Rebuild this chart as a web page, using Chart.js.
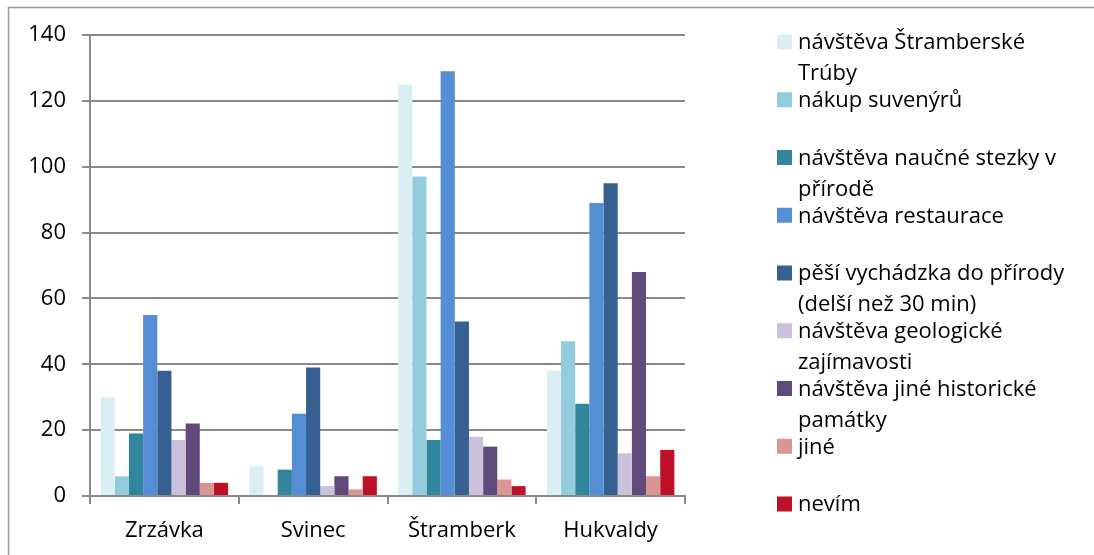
<!DOCTYPE html>
<html>
<head>
<meta charset="utf-8">
<script src="https://cdn.jsdelivr.net/npm/chart.js@4"></script>
<style>
html,body{margin:0;padding:0;background:#fff;}
#wrap{width:1094px;height:555px;position:relative;}
</style>
</head>
<body>
<div id="wrap"><canvas id="c" width="1094" height="555"></canvas></div>
<script>
const categories = ['Zrzávka', 'Svinec', 'Štramberk', 'Hukvaldy'];

const legendLines = [
  ['návštěva Štramberské', 'Trúby'],
  ['nákup suvenýrů'],
  ['návštěva naučné stezky v', 'přírodě'],
  ['návštěva restaurace'],
  ['pěší vychádzka do přírody', '(delší než 30 min)'],
  ['návštěva geologické', 'zajímavosti'],
  ['návštěva jiné historické', 'památky'],
  ['jiné'],
  ['nevím']
];

const truby       = [30, 9, 125, 38];
const suvenyry    = [6, 0, 97, 47];
const stezka      = [19, 8, 17, 28];
const restaurace  = [55, 25, 129, 89];
const vychazka    = [38, 39, 53, 95];
const geologie    = [17, 3, 18, 13];
const historie    = [22, 6, 15, 68];
const jine        = [4, 2, 5, 6];
const nevim       = [4, 6, 3, 14];

const seriesValues = [truby, suvenyry, stezka, restaurace, vychazka, geologie, historie, jine, nevim];
const seriesColors = ['#DBEEF4', '#93CDDD', '#31859C', '#558ED5', '#376092', '#CCC1DA', '#604A7B', '#D99694', '#BE1128'];

const yTicks = [0, 20, 40, 60, 80, 100, 120, 140];

const FONT = '"Open Sans", Lato, sans-serif';
const FSIZE = 22;

const framePlugin = {
  id: 'frame',
  beforeDraw(chart) {
    const ctx = chart.ctx;
    ctx.save();
    ctx.fillStyle = '#fff';
    ctx.fillRect(0, 0, chart.width, chart.height);
    ctx.strokeStyle = '#9a9a9a';
    ctx.lineWidth = 1.5;
    ctx.beginPath();
    ctx.moveTo(8.5, chart.height);
    ctx.lineTo(8.5, 7.5);
    ctx.lineTo(chart.width, 7.5);
    ctx.stroke();
    ctx.restore();
  }
};

const legendPlugin = {
  id: 'customLegend',
  afterDraw(chart) {
    const ctx = chart.ctx;
    ctx.save();
    ctx.font = FSIZE + 'px ' + FONT;
    ctx.textBaseline = 'middle';
    ctx.textAlign = 'left';
    chart.data.datasets.forEach((ds, i) => {
      const y0 = 42 + i * 57.75;
      ctx.fillStyle = ds.backgroundColor;
      ctx.fillRect(777, y0 - 7.5, 15, 15);
      ctx.fillStyle = '#000';
      legendLines[i].forEach((line, j) => {
        ctx.fillText(line, 798, y0 + 1 + j * 31);
      });
    });
    ctx.restore();
  }
};

new Chart(document.getElementById('c'), {
  type: 'bar',
  data: {
    labels: categories,
    datasets: seriesValues.map((vals, i) => ({
      label: legendLines[i].join(' '),
      data: vals,
      backgroundColor: seriesColors[i],
      borderWidth: 0,
      barPercentage: 1.0,
      categoryPercentage: 0.857
    }))
  },
  options: {
    responsive: false,
    animation: false,
    devicePixelRatio: 1,
    layout: { padding: { left: 0, right: 409, top: 35, bottom: 0 } },
    plugins: {
      legend: { display: false },
      tooltip: { enabled: false },
      title: { display: false }
    },
    scales: {
      x: {
        grid: {
          display: true,
          drawOnChartArea: false,
          drawTicks: true,
          tickLength: 8,
          color: '#8a8a8a',
          lineWidth: 2
        },
        border: { display: true, color: '#8a8a8a', width: 2 },
        ticks: {
          color: '#000',
          font: { family: FONT, size: FSIZE },
          padding: 14
        },
        afterFit(scale) { scale.height = 59; }
      },
      y: {
        min: 0,
        max: 140,
        afterBuildTicks(scale) { scale.ticks = yTicks.map(v => ({ value: v })); },
        grid: {
          color: '#8a8a8a',
          lineWidth: 2,
          drawTicks: true,
          tickLength: 8
        },
        border: { display: true, color: '#8a8a8a', width: 2 },
        ticks: {
          color: '#000',
          font: { family: FONT, size: FSIZE },
          padding: 16
        },
        afterFit(scale) { scale.width = 90; }
      }
    }
  },
  plugins: [framePlugin, legendPlugin]
});
</script>
</body>
</html>
